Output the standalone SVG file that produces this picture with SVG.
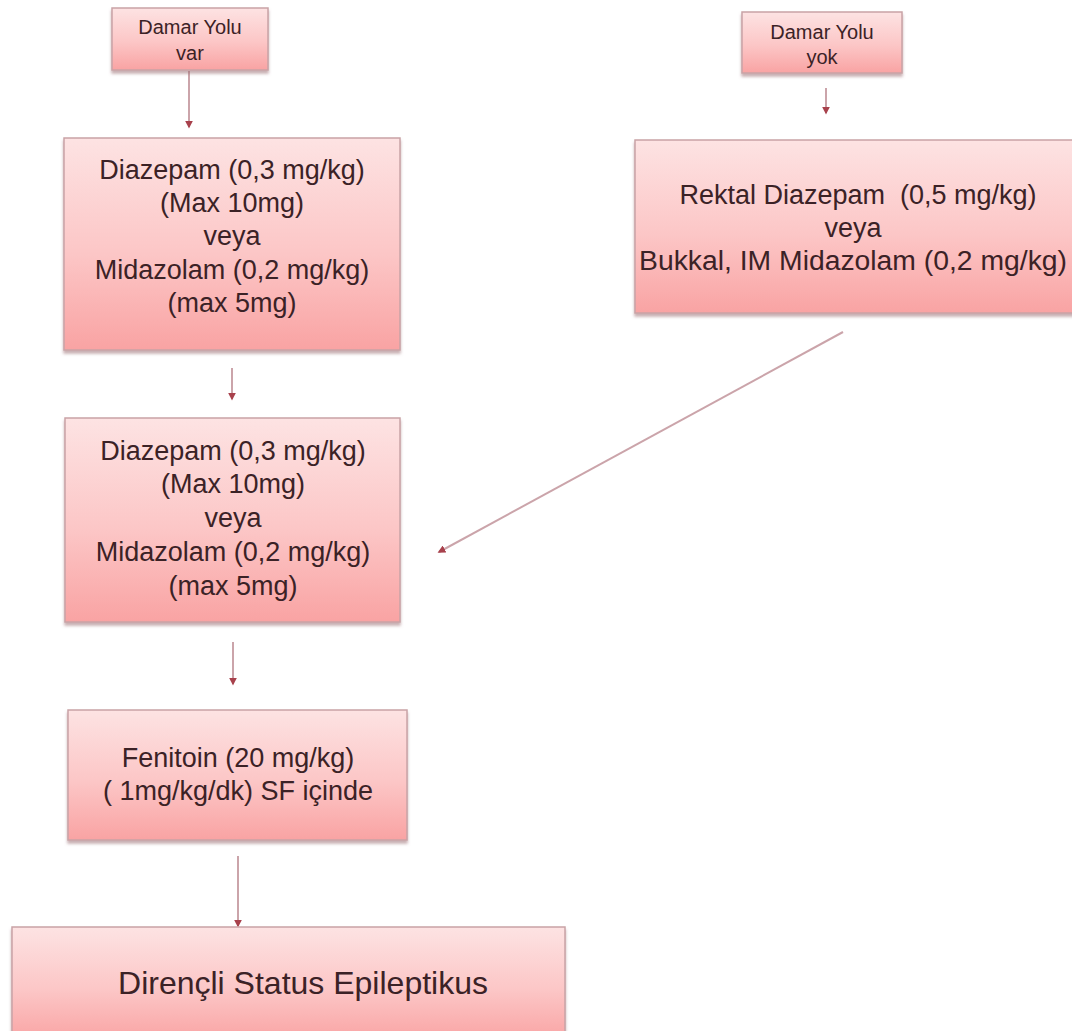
<svg xmlns="http://www.w3.org/2000/svg" width="1072" height="1031" viewBox="0 0 1072 1031">
  <style>
    .box { fill: url(#pinkFill); stroke: #c9a3a6; stroke-width: 1.5; filter: url(#shade); }
    .txt { font-family: "Liberation Sans", Arial, sans-serif; font-size: 27px; fill: #3b2226; text-anchor: middle; }
    .small { font-size: 20px; }
    .big { font-size: 32px; }
    .pre { white-space: pre; }
    .link { stroke: #cba4aa; stroke-width: 2; fill: none; marker-end: url(#tip); }
  </style>
  <defs>
    <linearGradient id="pinkFill" x1="0" y1="0" x2="0" y2="1">
      <stop offset="0" stop-color="#fde3e3"/>
      <stop offset="0.55" stop-color="#fcc6c6"/>
      <stop offset="1" stop-color="#f9a3a3"/>
    </linearGradient>
    <filter id="shade" x="-5%" y="-5%" width="110%" height="120%">
      <feDropShadow dx="0" dy="3" stdDeviation="1.5" flood-color="#9a6c70" flood-opacity="0.55"/>
    </filter>
    <marker id="tip" viewBox="0 0 10 10" refX="8" refY="5" markerWidth="4" markerHeight="4" orient="auto" markerUnits="strokeWidth">
      <path d="M0,0 L10,5 L0,10 Z" fill="#a8414c"/>
    </marker>
  </defs>

  <rect width="1072" height="1031" fill="#ffffff"/>

  <!-- connectors -->
  <g id="connectors">
    <line class="link" x1="189" y1="71" x2="189" y2="127"/>
    <line class="link" x1="826" y1="88" x2="826" y2="113"/>
    <line class="link" x1="232" y1="368" x2="232" y2="399"/>
    <line class="link" x1="843" y1="332" x2="439" y2="552"/>
    <line class="link" x1="233" y1="642" x2="233" y2="684"/>
    <line class="link" x1="238" y1="856" x2="238" y2="926"/>
  </g>

  <!-- entry: IV access available -->
  <g id="node-damar-var">
    <rect class="box" x="112" y="8" width="156" height="62"/>
    <text class="txt small" x="190" y="34">Damar Yolu</text>
    <text class="txt small" x="190" y="60">var</text>
  </g>

  <!-- entry: no IV access -->
  <g id="node-damar-yok">
    <rect class="box" x="742" y="12" width="160" height="61"/>
    <text class="txt small" x="822" y="39">Damar Yolu</text>
    <text class="txt small" x="822" y="64">yok</text>
  </g>

  <!-- first IV dose -->
  <g id="node-iv-dose-1">
    <rect class="box" x="64" y="138" width="336" height="212"/>
    <text class="txt" x="232" y="179">Diazepam (0,3 mg/kg)</text>
    <text class="txt" x="232" y="212">(Max 10mg)</text>
    <text class="txt" x="232" y="245">veya</text>
    <text class="txt" x="232" y="279">Midazolam (0,2 mg/kg)</text>
    <text class="txt" x="232" y="312">(max 5mg)</text>
  </g>

  <!-- rectal / buccal route -->
  <g id="node-rektal">
    <rect class="box" x="635" y="140" width="445" height="173"/>
    <text class="txt pre" x="858" y="204" xml:space="preserve">Rektal Diazepam  (0,5 mg/kg)</text>
    <text class="txt" x="853" y="237">veya</text>
    <text class="txt" x="853" y="270" textLength="428" lengthAdjust="spacingAndGlyphs">Bukkal, IM Midazolam (0,2 mg/kg)</text>
  </g>

  <!-- repeat IV dose -->
  <g id="node-iv-dose-2">
    <rect class="box" x="65" y="418" width="335" height="204"/>
    <text class="txt" x="233" y="460">Diazepam (0,3 mg/kg)</text>
    <text class="txt" x="233" y="493">(Max 10mg)</text>
    <text class="txt" x="233" y="527">veya</text>
    <text class="txt" x="233" y="561">Midazolam (0,2 mg/kg)</text>
    <text class="txt" x="233" y="595">(max 5mg)</text>
  </g>

  <!-- phenytoin load -->
  <g id="node-fenitoin">
    <rect class="box" x="68" y="710" width="339" height="130"/>
    <text class="txt" x="238" y="767">Fenitoin (20 mg/kg)</text>
    <text class="txt" x="238" y="800">( 1mg/kg/dk) SF içinde</text>
  </g>

  <!-- refractory status -->
  <g id="node-direncli">
    <rect class="box" x="12" y="927" width="553" height="115"/>
    <text class="txt big" x="303" y="994">Dirençli Status Epileptikus</text>
  </g>
</svg>
